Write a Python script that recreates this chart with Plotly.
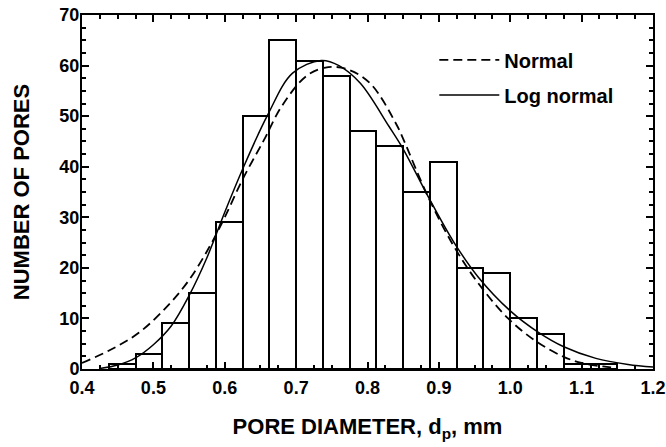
import plotly.graph_objects as go

# Histogram bins (mm) and counts
bin_start = 0.4375
bin_width = 0.0375
counts = [1, 3, 9, 15, 29, 50, 65, 61, 58, 47, 44, 35, 41, 20, 19, 10, 7, 1, 1]
bin_centers = [round(bin_start + bin_width * (i + 0.5), 5) for i in range(len(counts))]

# Normal fit curve
normal_x = [0.40, 0.44, 0.48, 0.52, 0.55, 0.58, 0.60, 0.625, 0.655, 0.68, 0.715, 0.745,
            0.775, 0.805, 0.84, 0.85, 0.885, 0.92, 0.955, 0.997, 1.037, 1.075, 1.10, 1.13, 1.15]
normal_y = [1.2, 3.8, 7.2, 12.5, 17.6, 24.5, 30, 37.5, 45.3, 52, 58, 59.7,
            59.1, 56.3, 48.5, 45.5, 34, 24.5, 17, 10, 5.4, 2.4, 1.2, 0.5, 0.2]

# Log-normal fit curve
lognorm_x = [0.425, 0.45, 0.475, 0.50, 0.525, 0.55, 0.575, 0.60, 0.625, 0.66, 0.695, 0.735,
             0.76, 0.79, 0.83, 0.85, 0.885, 0.92, 0.955, 1.0, 1.04, 1.075, 1.12, 1.165, 1.2]
lognorm_y = [0.1, 0.8, 2.2, 4.8, 8.5, 14.5, 22, 31, 39.5, 50.2, 58.5, 61,
             60, 56.5, 48, 43.5, 34.1, 25.3, 18.2, 11.5, 7.2, 4.4, 2.1, 0.9, 0.4]

x_ticks = [0.4, 0.5, 0.6, 0.7, 0.8, 0.9, 1.0, 1.1, 1.2]
y_ticks = [0, 10, 20, 30, 40, 50, 60, 70]

FONT = "Arial, Liberation Sans, sans-serif"

fig = go.Figure()
fig.add_trace(go.Bar(x=bin_centers, y=counts, width=bin_width,
                     marker=dict(color="white", line=dict(color="black", width=2)),
                     showlegend=False))
fig.add_trace(go.Scatter(x=normal_x, y=normal_y, mode="lines", name="Normal",
                         line=dict(color="black", width=1.8, dash="9px,5px", shape="spline"),
                         legend="legend"))
fig.add_trace(go.Scatter(x=lognorm_x, y=lognorm_y, mode="lines", name="Log normal",
                         line=dict(color="black", width=1.5, shape="spline"),
                         legend="legend2"))

axis_common = dict(showline=True, linecolor="black", linewidth=2, mirror="allticks",
                   ticks="inside", ticklen=7, tickwidth=2, tickcolor="black",
                   showgrid=False, zeroline=False, ticklabeloverflow="allow",
                   tickfont=dict(family=FONT, size=18, color="black", weight="bold"))

fig.update_xaxes(range=[0.4, 1.2], tickvals=x_ticks, tickformat=".1f",
                 minor=dict(ticks="inside", ticklen=4, tickwidth=1.5, tickcolor="black", dtick=0.025),
                 title=dict(text="PORE DIAMETER, d<sub>p</sub>, mm",
                            font=dict(family=FONT, size=22, color="black", weight="bold"),
                            standoff=22),
                 ticklabelstandoff=1,
                 **axis_common)
fig.update_yaxes(range=[0, 70], tickvals=y_ticks,
                 minor=dict(ticks="inside", ticklen=4, tickwidth=1.5, tickcolor="black", dtick=2.5),
                 title=dict(text="NUMBER OF PORES",
                            font=dict(family=FONT, size=22, color="black", weight="bold"),
                            standoff=24),
                 ticklabelstandoff=-3,
                 **axis_common)

leg_font = dict(family=FONT, size=20, color="black", weight="bold")
fig.update_layout(
    width=666, height=447,
    margin=dict(l=82, r=13, t=15, b=78, autoexpand=False),
    plot_bgcolor="white", paper_bgcolor="white",
    bargap=0,
    legend=dict(x=0.617, y=0.873, xanchor="left", yanchor="middle", bgcolor="rgba(0,0,0,0)",
                font=leg_font, itemwidth=60),
    legend2=dict(x=0.617, y=0.774, xanchor="left", yanchor="middle", bgcolor="rgba(0,0,0,0)",
                 font=leg_font, itemwidth=60),
)

fig.write_html("out.html")
